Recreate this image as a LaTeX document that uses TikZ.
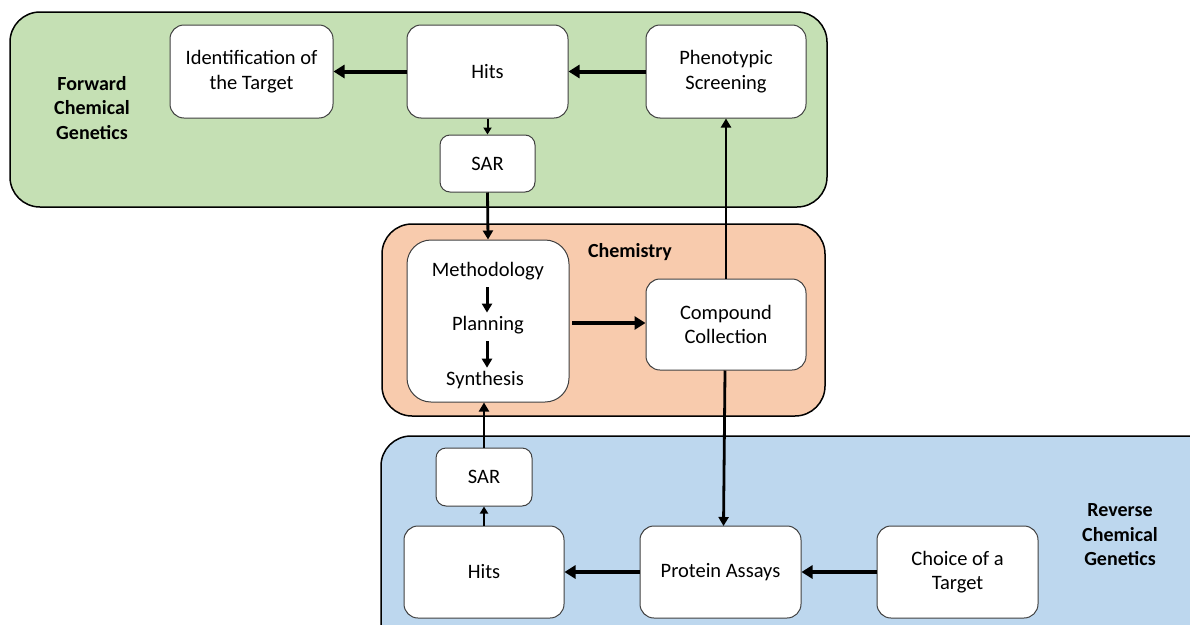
\documentclass[tikz,border=0pt]{standalone}
\usepackage{fontspec}
\setmainfont{Carlito}
\usetikzlibrary{arrows.meta}
\definecolor{gfill}{HTML}{C5E0B4}
\definecolor{ofill}{HTML}{F8CBAD}
\definecolor{bfill}{HTML}{BDD7EE}
\definecolor{bline}{HTML}{404040}
\tikzset{
  panel/.style={draw=black, line width=1.5pt, rounded corners=30pt},
  box/.style={draw=bline, fill=white, line width=1pt, rounded corners=14pt, align=center, font=\fontsize{20.5}{24.5}\selectfont, inner sep=0pt},
  lbl/.style={align=center, font=\fontsize{20}{24.5}\selectfont\bfseries},
  plain/.style={font=\fontsize{20.5}{24.5}\selectfont},
  bigarr/.style={line width=4pt, -{Triangle[length=11pt,width=13pt]}},
  medarr/.style={line width=2.8pt, -{Triangle[length=9pt,width=10pt]}},
  smallarr/.style={line width=2pt, -{Triangle[length=7pt,width=8pt]}},
}
\begin{document}
\begin{tikzpicture}[x=1pt,y=-1pt]
\useasboundingbox (0,0) rectangle (1190,624);
% panels
\path[panel, fill=gfill] (10,12) rectangle (827,207);
\path[panel, fill=ofill] (382,224) rectangle (825,416);
\begin{scope}
\clip (0,0) rectangle (1190,624);
\path[panel, fill=bfill] (381,436) rectangle (1230,680);
\end{scope}
% labels
\node[lbl] (fcg) at (92,108) {Forward\\Chemical\\Genetics};
\node[lbl] (chem) at (630,252) {Chemistry};
\node[lbl] (rcg) at (1120,535) {Reverse\\Chemical\\Genetics};
% top boxes
\node[box, minimum width=163pt, minimum height=93pt] (ident) at (251.5,71.5) {Identification of\\the Target};
\node[box, minimum width=161pt, minimum height=93pt] (hitsT) at (487.5,71.5) {Hits};
\node[box, minimum width=160pt, minimum height=93pt] (pheno) at (726,71.5) {Phenotypic\\Screening};
\node[box, minimum width=95pt, minimum height=57pt, rounded corners=10pt] (sarT) at (487.5,163.5) {SAR};
% chemistry
\node[box, minimum width=162pt, minimum height=162pt, rounded corners=24pt] (meth) at (488,321) {};
\node[plain] (m1) at (488,271) {Methodology};
\node[plain] (m2) at (488,325) {Planning};
\node[plain] (m3) at (485,380) {Synthesis};
\node[box, minimum width=160pt, minimum height=91pt] (comp) at (726,324.5) {Compound\\Collection};
% bottom boxes
\node[box, minimum width=96pt, minimum height=58pt, rounded corners=10pt] (sarB) at (484,477) {SAR};
\node[box, minimum width=160pt, minimum height=92pt] (hitsB) at (484,572) {Hits};
\node[box, minimum width=161pt, minimum height=92pt] (prot) at (720.5,572) {Protein Assays};
\node[box, minimum width=161pt, minimum height=92pt] (choice) at (957.5,572) {Choice of a\\Target};
% arrows
\draw[bigarr] (hitsT.west) -- (ident.east);
\draw[bigarr] (pheno.west) -- (hitsT.east);
\draw[smallarr] (hitsT.south) -- (sarT.north);
\draw[medarr] (sarT.south) -- (meth.north);
\draw[line width=3pt, -{Triangle[length=9pt,width=10pt]}] (487,287) -- (m2.north -| 487,0);
\draw[line width=3pt, -{Triangle[length=9pt,width=10pt]}] (487,341) -- (m3.north -| 487,0);
\coordinate (mstart) at (572,323);
\draw[bigarr] (mstart) -- (mstart -| comp.west);
\draw[medarr] (comp.north) -- (pheno.south);
\coordinate (protin) at (723.5,526);
\draw[medarr] (comp.south -| 725,0) -- (protin);
\draw[medarr] (sarB.north) -- (meth.south -| sarB.north);
\draw[smallarr] (hitsB.north) -- (sarB.south);
\draw[bigarr] (prot.west) -- (hitsB.east);
\draw[bigarr] (choice.west) -- (prot.east);
\end{tikzpicture}
\end{document}
